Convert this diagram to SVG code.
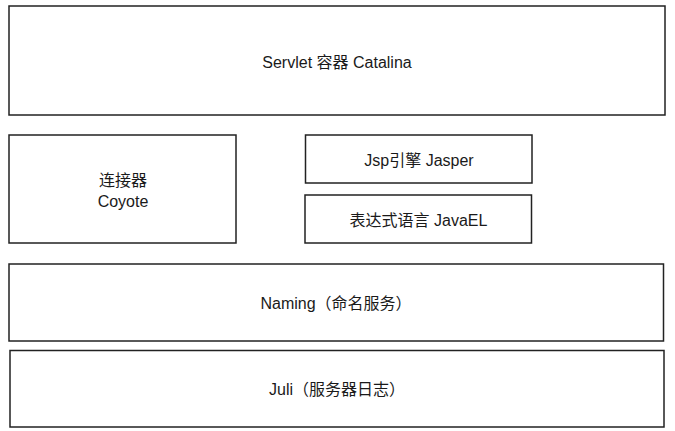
<svg xmlns="http://www.w3.org/2000/svg" width="675" height="431" viewBox="0 0 675 431">
<style>
.box{fill:#fff;stroke:#222;stroke-width:1.5}
.t{font-family:"Liberation Sans","Noto Sans CJK SC",sans-serif;font-size:16px;fill:#1a1a1a;text-anchor:middle}
</style>
<rect width="675" height="431" fill="#fff"/>
<g id="catalina"><rect class="box" x="9" y="6" width="656" height="109"/><text class="t" x="337" y="67.5">Servlet 容器 Catalina</text></g>
<g id="coyote"><rect class="box" x="9" y="135" width="227" height="108"/><text class="t" x="123" y="186">连接器</text><text class="t" x="123" y="206.5">Coyote</text></g>
<g id="jasper"><rect class="box" x="305.5" y="135" width="226.5" height="48"/><text class="t" x="419" y="166">Jsp引擎 Jasper</text></g>
<g id="javael"><rect class="box" x="305" y="195" width="226.5" height="48"/><text class="t" x="418.5" y="226">表达式语言 JavaEL</text></g>
<g id="naming"><rect class="box" x="9" y="264" width="654.5" height="77"/><text class="t" x="336" y="309">Naming（命名服务）</text></g>
<g id="juli"><rect class="box" x="10" y="350.5" width="654" height="76.5"/><text class="t" x="337" y="395">Juli（服务器日志）</text></g>
<g id="connectors"></g>
</svg>
